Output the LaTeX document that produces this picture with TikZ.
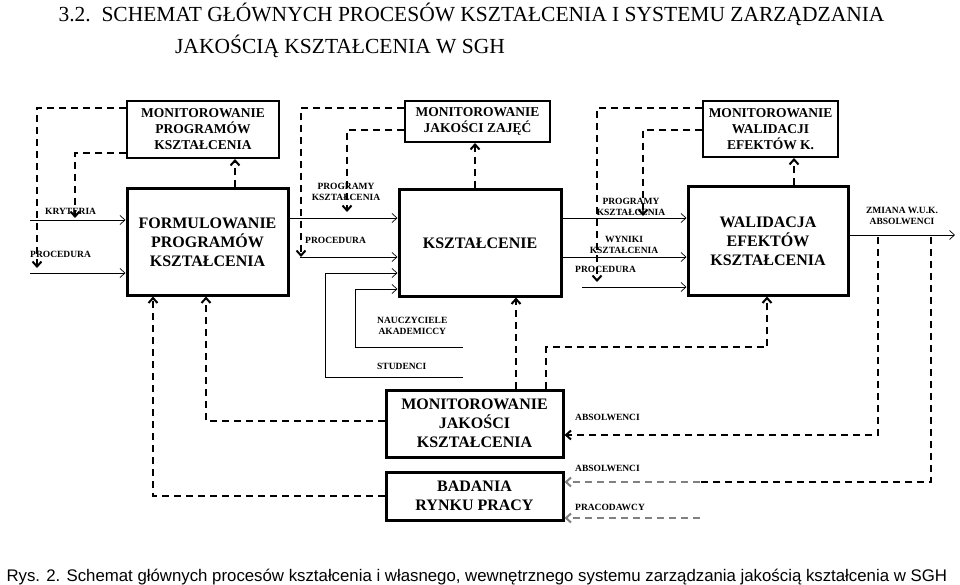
\documentclass[tikz,border=0pt]{standalone}
\usepackage{fontspec}
\setmainfont{Liberation Serif}
\newfontfamily\capfont{Liberation Sans}
\usetikzlibrary{arrows.meta}
\begin{document}
\begin{tikzpicture}[x=1pt,y=-1pt,
  bigbox/.style={draw,line width=3pt,inner sep=0pt,font=\fontsize{16}{19}\selectfont\bfseries,align=center},
  monbox/.style={draw,line width=2pt,inner sep=0pt,font=\fontsize{13.5}{16}\selectfont\bfseries,align=center},
  flow/.style={line width=0.7pt,-{Straight Barb[length=5pt,width=9pt]}},
  fb/.style={line width=2pt,dash pattern=on 7pt off 5pt,-{Straight Barb[length=5pt,width=9pt,line width=2pt]}},
  fbgrey/.style={fb,draw=gray},
  lab/.style={font=\fontsize{9.5}{11}\selectfont\bfseries,inner sep=0pt,align=center},
]
\useasboundingbox (0,0) rectangle (960,585);
\fill[white] (0,0) rectangle (960,585);
\node[font=\fontsize{21.5}{24}\selectfont,anchor=west] (t1) at (55,14) {3.2.\enspace SCHEMAT GŁÓWNYCH PROCESÓW KSZTAŁCENIA I SYSTEMU ZARZĄDZANIA};
\node[font=\fontsize{21.5}{24}\selectfont] (t2) at (340,46) {JAKOŚCIĄ KSZTAŁCENIA W SGH};
\node[font=\capfont\fontsize{16.8}{18}\selectfont,anchor=west] (cap) at (3,577) {Rys. 2. Schemat głównych procesów kształcenia i własnego, wewnętrznego systemu zarządzania jakością kształcenia w SGH};

% boxes
\node[monbox,minimum width=152pt,minimum height=57pt] (mpk) at (203,129.5) {MONITOROWANIE\\PROGRAMÓW\\KSZTAŁCENIA};
\node[bigbox,minimum width=161pt,minimum height=106pt] (fpk) at (207.5,242) {FORMULOWANIE\\PROGRAMÓW\\KSZTAŁCENIA};
\node[monbox,minimum width=145pt,minimum height=41pt] (mjz) at (477.5,121.5) {MONITOROWANIE\\JAKOŚCI ZAJĘĆ};
\node[bigbox,minimum width=162pt,minimum height=106pt] (ksz) at (480,243) {KSZTAŁCENIE};
\node[monbox,minimum width=135pt,minimum height=56pt] (mwe) at (770.5,129) {MONITOROWANIE\\WALIDACJI\\EFEKTÓW K.};
\node[bigbox,minimum width=160pt,minimum height=108pt] (wek) at (768,241) {WALIDACJA\\EFEKTÓW\\KSZTAŁCENIA};
\node[bigbox,minimum width=177pt,minimum height=67pt] (mjk) at (474.5,423.5) {MONITOROWANIE\\JAKOŚCI\\KSZTAŁCENIA};
\node[bigbox,minimum width=177pt,minimum height=48pt] (brp) at (474.5,496) {BADANIA\\RYNKU PRACY};

% free ends
\coordinate (k0) at (30,220);
\coordinate (p0) at (30,273);
\coordinate (pr2) at (300,257);
\coordinate (na) at (355,289);
\coordinate (st) at (325,273);
\coordinate (pr3) at (582,287);
\coordinate (out) at (955,235);
\coordinate (pd) at (700,518);

% flows
\draw[flow] (k0) -- (k0 -| fpk.west);
\draw[flow] (p0) -- (p0 -| fpk.west);
\draw[flow] (fpk.east |- 0,218) -- (ksz.west |- 0,218);
\draw[flow] (pr2) -- (pr2 -| ksz.west);
\draw[flow] (st) -- (st -| ksz.west);
\draw[flow] (na) -- (na -| ksz.west);
\draw[line width=0.7pt] (463,347) -| (na);
\draw[line width=0.7pt] (463,377) -| (st);
\draw[flow] (ksz.east |- 0,218) -- (wek.west |- 0,218);
\draw[flow] (ksz.east |- 0,257) -- (wek.west |- 0,257);
\draw[flow] (pr3) -- (pr3 -| wek.west);
\draw[flow] (wek.east |- out) -- (out);

% labels
\node[lab,anchor=west] (lk) at (45,211) {KRYTERIA};
\node[lab,anchor=west] (lp) at (30,254) {PROCEDURA};
\node[lab] (lpk1) at (346,192) {PROGRAMY\\KSZTAŁCENIA};
\node[lab,anchor=west] (lpr2) at (305,240) {PROCEDURA};
\node[lab,anchor=west] (lna) at (377,326) {NAUCZYCIELE\\AKADEMICCY};
\node[lab,anchor=west] (lst) at (377,366) {STUDENCI};
\node[lab] (lpk2) at (631,207) {PROGRAMY\\KSZTAŁCENIA};
\node[lab] (lwy) at (624,245) {WYNIKI\\KSZTAŁCENIA};
\node[lab,anchor=west] (lpr3) at (575,269) {PROCEDURA};
\node[lab] (lzm) at (902,216) {ZMIANA W.U.K.\\ABSOLWENCI};
\node[lab,anchor=west] (la1) at (575,417) {ABSOLWENCI};
\node[lab,anchor=west] (la2) at (575,468) {ABSOLWENCI};
\node[lab,anchor=west] (lpc) at (575,507) {PRACODAWCY};

% feedback (dashed)
\draw[fb] (mpk.west |- 0,108) -| (37,268);
\draw[fb] (mpk.west |- 0,153) -| (75,218);
\draw[fb] (fpk.north -| 235,0) -- (mpk.south -| 235,0);
\draw[fb] (mjz.west |- 0,108) -| (301,257);
\draw[fb] (mjz.west |- 0,130) -| (347,212);
\draw[fb] (ksz.north -| 475,0) -- (mjz.south -| 475,0);
\draw[fb] (mwe.west |- 0,108) -| (597,282);
\draw[fb] (mwe.west |- 0,130) -| (643,216);
\draw[fb] (wek.north -| 794,0) -- (mwe.south -| 794,0);
\draw[fb] (878,237) |- (mjk.east |- 0,435);
\draw[line width=2pt,dash pattern=on 7pt off 5pt] (931,237) |- (700,482);
\draw[fbgrey] (700,482) -- (brp.east |- 0,482);
\draw[fbgrey] (pd) -- (pd -| brp.east);
\draw[fb] (mjk.west |- 0,421) -| (fpk.south -| 206,0);
\draw[fb] (brp.west |- 0,496) -| (fpk.south -| 153,0);
\draw[fb] (mjk.north -| 516,0) -- (ksz.south -| 516,0);
\draw[fb] (mjk.north -| 546,0) |- (767,347) -- (wek.south -| 767,0);
\end{tikzpicture}
\end{document}
